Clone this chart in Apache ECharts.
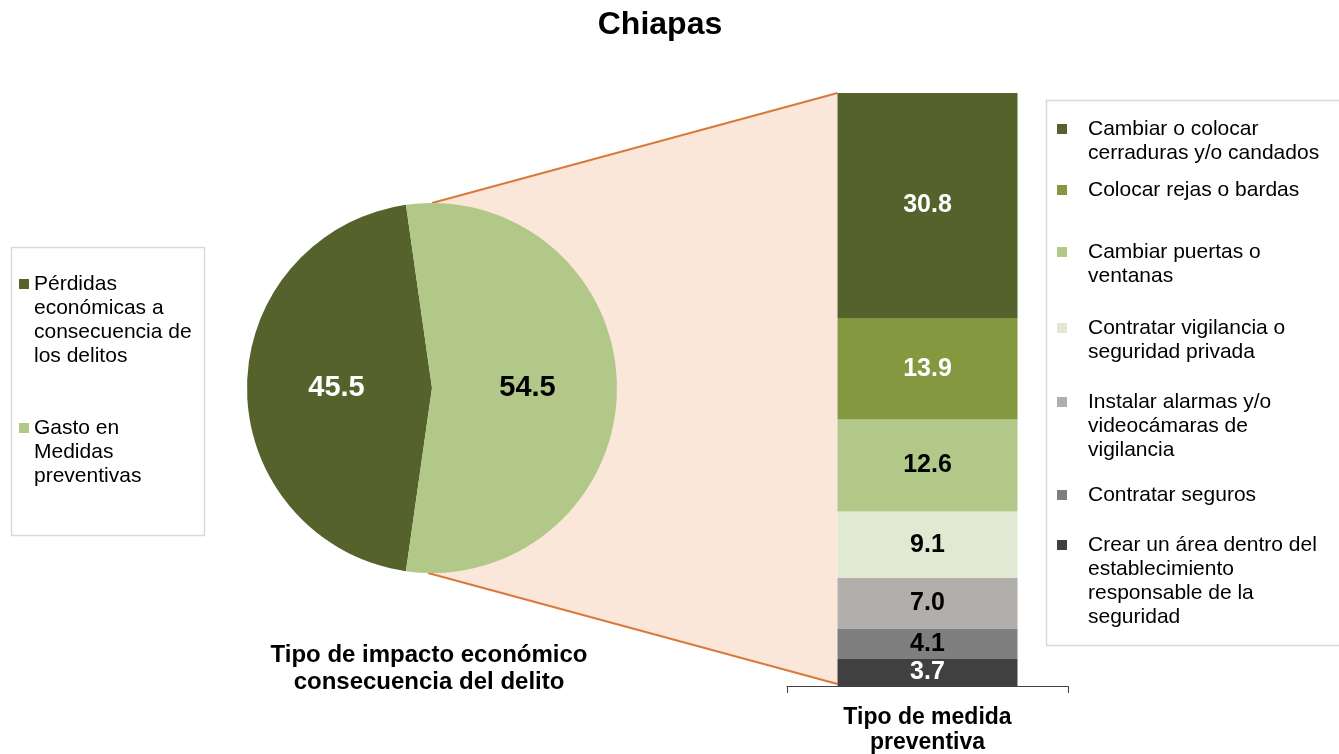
<!DOCTYPE html>
<html>
<head>
<meta charset="utf-8">
<title>Chiapas</title>
<script src="https://cdn.jsdelivr.net/npm/echarts@6/dist/echarts.min.js"></script>
<style>
html, body { margin: 0; padding: 0; background: #fff; }
#main { width: 1339px; height: 754px; }
</style>
</head>
<body>
<div id="main"></div>
<script>
// datos
var impactoNames = ['Pérdidas económicas a consecuencia de los delitos', 'Gasto en Medidas preventivas'];
var impactoLegend = ['Pérdidas\neconómicas a\nconsecuencia de\nlos delitos', 'Gasto en\nMedidas\npreventivas'];
var impactoValues = [45.5, 54.5];

var medidaNames = [
	'Cambiar o colocar cerraduras y/o candados',
	'Colocar rejas o bardas',
	'Cambiar puertas o ventanas',
	'Contratar vigilancia o seguridad privada',
	'Instalar alarmas y/o videocámaras de vigilancia',
	'Contratar seguros',
	'Crear un área dentro del establecimiento responsable de la seguridad'
];
var medidaLegend = [
	'Cambiar o colocar\ncerraduras y/o candados',
	'Colocar rejas o bardas',
	'Cambiar puertas o\nventanas',
	'Contratar vigilancia o\nseguridad privada',
	'Instalar alarmas y/o\nvideocámaras de\nvigilancia',
	'Contratar seguros',
	'Crear un área dentro del\nestablecimiento\nresponsable de la\nseguridad'
];
var medidaValues = [30.8, 13.9, 12.6, 9.1, 7.0, 4.1, 3.7];
var medidaCategory = ['Tipo de medida\npreventiva'];

// estilos
var FONT = '"Liberation Sans", Arial, sans-serif';
var LH = 24;
var impactoColors = ['#55622B', '#B2C888'];
var impactoLabelColors = ['#fff', '#000'];
var medidaColors = ['#55622B', '#84993F', '#B2C888', '#E1E9D2', '#B1AEAC', '#7F7F7F', '#404040'];
var medidaLabelColors = ['#fff', '#fff', '#000', '#000', '#000', '#000', '#fff'];
var leftLegendY = [284, 428];
var rightLegendY = [129, 190, 252, 328, 402, 495, 545];
var PIE_C = [432, 388], PIE_R = 185, BAR_W = 180;

var total = medidaValues.reduce(function(a, b) { return a + b; }, 0);
var impactoTotal = impactoValues.reduce(function(a, b) { return a + b; }, 0);

// una leyenda por elemento: lineas vacias arriba para que el icono quede en la primera linea
function legendItem(name, label, x, y0, extraPad) {
	var n = label.split('\n').length;
	var pre = '';
	for (var k = 1; k < n; k++) pre += '\n';
	return {
		orient: 'vertical',
		left: x,
		top: y0 - (2 * n - 1) * LH / 2,
		padding: 0,
		icon: 'rect',
		itemWidth: 10,
		itemHeight: 10,
		formatter: pre + label,
		data: [{ name: name, textStyle: { padding: [0, 0, 0, extraPad] } }],
		textStyle: { fontSize: 21, lineHeight: LH, color: '#000', fontFamily: FONT }
	};
}

var legends = [];
impactoNames.forEach(function(nm, i) {
	legends.push(legendItem(nm, impactoLegend[i], 19, leftLegendY[i], 0));
});
medidaNames.forEach(function(nm, i) {
	legends.push(legendItem(nm, medidaLegend[i], 1057, rightLegendY[i], 16));
});

var series = [{
	type: 'pie',
	center: PIE_C,
	radius: PIE_R,
	startAngle: 180 + impactoValues[0] / impactoTotal * 180,
	clockwise: true,
	z: 3,
	labelLine: { show: false },
	emphasis: { scale: false },
	data: impactoNames.map(function(nm, i) {
		return {
			name: nm,
			value: impactoValues[i],
			itemStyle: { color: impactoColors[i], borderWidth: 0 },
			label: {
				show: true,
				position: 'inside',
				formatter: function(p) { return p.value.toFixed(1); },
				color: impactoLabelColors[i],
				fontSize: 29,
				fontWeight: 'bold',
				fontFamily: FONT,
				textBorderWidth: 0
			}
		};
	})
}];
// barras apiladas: la ultima medida va abajo
for (var i = medidaNames.length - 1; i >= 0; i--) {
	series.push({
		type: 'bar',
		name: medidaNames[i],
		stack: 'medida',
		barWidth: BAR_W,
		data: [medidaValues[i]],
		itemStyle: { color: medidaColors[i] },
		emphasis: { disabled: true },
		label: {
			show: true,
			position: 'inside',
			formatter: function(p) { return p.value.toFixed(1); },
			color: medidaLabelColors[i],
			fontSize: 25,
			fontWeight: 'bold',
			fontFamily: FONT,
			textBorderWidth: 0
		}
	});
}

var myChart = echarts.init(document.getElementById('main'));
var option = {
	animation: false,
	backgroundColor: '#fff',
	title: [{
		text: 'Chiapas',
		left: 660,
		top: 25,
		padding: 0,
		textAlign: 'center',
		textVerticalAlign: 'middle',
		textStyle: { fontSize: 32, fontWeight: 'bold', color: '#000', fontFamily: FONT }
	}, {
		text: 'Tipo de impacto económico\nconsecuencia del delito',
		left: 429,
		top: 669,
		padding: 0,
		textAlign: 'center',
		textVerticalAlign: 'middle',
		textStyle: { fontSize: 24, lineHeight: 27, fontWeight: 'bold', color: '#000', fontFamily: FONT }
	}],
	legend: legends,
	tooltip: { show: false },
	grid: { left: 787, top: 93, width: 281, height: 593, containLabel: false, outerBoundsMode: 'none' },
	xAxis: {
		type: 'category',
		data: medidaCategory,
		boundaryGap: true,
		axisLine: { lineStyle: { color: '#404040', width: 1 } },
		axisTick: { show: true, length: 7, alignWithLabel: false, lineStyle: { color: '#404040' } },
		axisLabel: { margin: 19, fontSize: 23, lineHeight: 25, fontWeight: 'bold', color: '#000', fontFamily: FONT }
	},
	yAxis: {
		type: 'value',
		min: 0,
		max: total,
		show: false,
		splitLine: { show: false }
	},
	series: series
};
myChart.setOption(option);

// zona de conexion entre el pastel y la barra
var top0 = myChart.convertToPixel({ xAxisIndex: 0, yAxisIndex: 0 }, [0, total]);
var bot0 = myChart.convertToPixel({ xAxisIndex: 0, yAxisIndex: 0 }, [0, 0]);
var barLeft = top0[0] - BAR_W / 2;
var pieTop = [PIE_C[0], PIE_C[1] - PIE_R];
var pieBot = [PIE_C[0] - 4, PIE_C[1] + PIE_R];
myChart.setOption({
	graphic: [{
		type: 'polygon',
		z: -10,
		shape: { points: [pieTop, [barLeft, top0[1]], [barLeft, bot0[1] - 2], pieBot] },
		style: { fill: '#FBE6DA', stroke: null }
	}, {
		type: 'polyline',
		z: -9,
		shape: { points: [pieTop, [barLeft, top0[1]]] },
		style: { stroke: '#D9793A', lineWidth: 2, fill: null }
	}, {
		type: 'polyline',
		z: -9,
		shape: { points: [pieBot, [barLeft, bot0[1] - 2]] },
		style: { stroke: '#D9793A', lineWidth: 2, fill: null }
	}, {
		type: 'rect',
		z: -5,
		shape: { x: 11.5, y: 247.5, width: 193, height: 288 },
		style: { fill: null, stroke: '#D9D9D9', lineWidth: 1.5 }
	}, {
		type: 'rect',
		z: -5,
		shape: { x: 1046.5, y: 100.5, width: 330, height: 545 },
		style: { fill: null, stroke: '#D9D9D9', lineWidth: 1.5 }
	}]
});
</script>
</body>
</html>
